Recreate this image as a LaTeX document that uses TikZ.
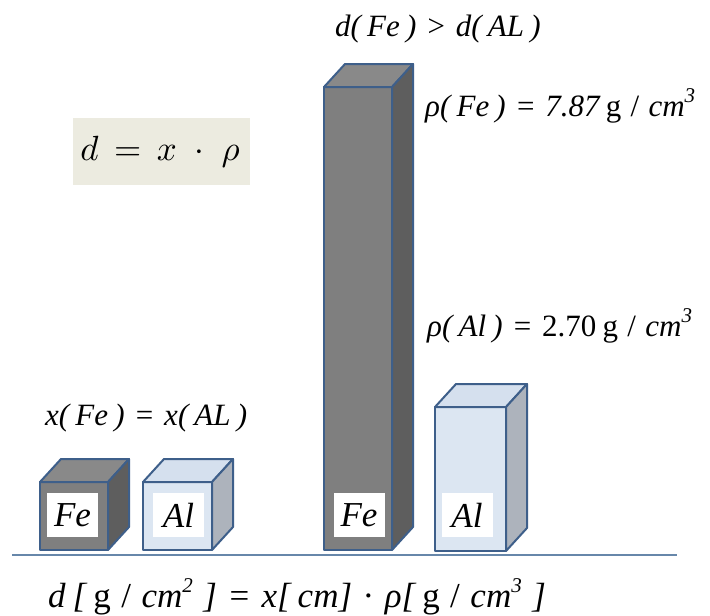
\documentclass[tikz,border=0pt]{standalone}
\usepackage{fontspec}
\setmainfont{Liberation Serif}
\newcommand\mysup[1]{\raisebox{0.42em}{\fontsize{21}{23}\selectfont #1}}
\newcommand\sg{\hspace{0.2em}}
\newcommand\bg{\hspace{0.3em}}
\newcommand\myprism[7]{%
  \filldraw[fill=#5] (#1,#2) rectangle ({#1+#3},#4);
  \filldraw[fill=#6] (#1,#2) -- ++(21,-23) -- ++(#3,0) -- ({#1+#3},#2) -- cycle;
  \filldraw[fill=#7] ({#1+#3},#2) -- ++(21,-23) -- ++(0,{#4-#2}) -- ({#1+#3},#4) -- cycle;
}
\begin{document}
\begin{tikzpicture}[x=1pt,y=-1pt,
  edge/.style={draw=boxline,line width=2pt,line join=round},
  lbl/.style={fill=white,inner sep=0pt,minimum width=51pt,minimum height=44pt,font=\fontsize{35}{38}\selectfont\itshape},
  txt/.style={anchor=base west,inner sep=0pt,font=\fontsize{31}{34}\selectfont\itshape}]
\definecolor{boxline}{HTML}{3E5F8A}
\definecolor{fefront}{HTML}{7F7F7F}
\definecolor{fetop}{HTML}{898989}
\definecolor{feside}{HTML}{5E5E5E}
\definecolor{alfront}{HTML}{DCE6F2}
\definecolor{altop}{HTML}{D5E0EE}
\definecolor{alside}{HTML}{ADB3BC}
\definecolor{baseln}{HTML}{6787AA}
\definecolor{formbg}{HTML}{ECEBE0}
\useasboundingbox (0,0) rectangle (710,616);
\fill[white] (0,0) rectangle (710,616);
\begin{scope}[edge]
\myprism{40}{482}{68}{550}{fefront}{fetop}{feside}
\myprism{143}{482}{69}{550}{alfront}{altop}{alside}
\myprism{324}{87}{68}{550}{fefront}{fetop}{feside}
\myprism{435}{407}{71}{551}{alfront}{altop}{alside}
\end{scope}
\node[lbl] (l1) at (72.5,515) {Fe};
\node[lbl] (l2) at (178.5,515) {Al};
\node[lbl] (l3) at (359,515) {Fe};
\node[lbl] (l4) at (467,515) {Al};
\coordinate (b1) at (12,555);
\coordinate (b2) at (677,555);
\draw[baseln,line width=2.5pt] (b1) -- (b2);
\fill[formbg] (73,118) rectangle (250,185);
\node[inner sep=0pt] (f) at (160,152) {\scalebox{3.5}{$d \mathrel{\,=\,} x\;\cdot\;\rho$}};
\node[txt] (t1) at (335,36) {d(\sg Fe\sg)\bg>\bg d(\sg AL\sg)};
\node[txt] (t2) at (425,116) {ρ(\sg Fe\sg)\bg=\bg 7.87\sg{\upshape g\bg/\bg}cm\mysup{3}};
\node[txt] (t3) at (427,336) {ρ(\sg Al\sg)\bg=\bg{\upshape 2.70\sg g\bg/\bg}cm\mysup{3}};
\node[txt] (t4) at (45,425) {x(\sg Fe\sg)\bg=\bg x(\sg AL\sg)};
\node[txt,font=\fontsize{35}{38}\selectfont\itshape] (t5) at (48,607) {d\sg[\sg{\upshape g\bg/\bg}cm\mysup{2}\bg]\bg=\bg x[\sg cm]\bg{\upshape ·}\bg ρ[\sg{\upshape g\bg/\bg}cm\mysup{3}\bg]};
\end{tikzpicture}
\end{document}
